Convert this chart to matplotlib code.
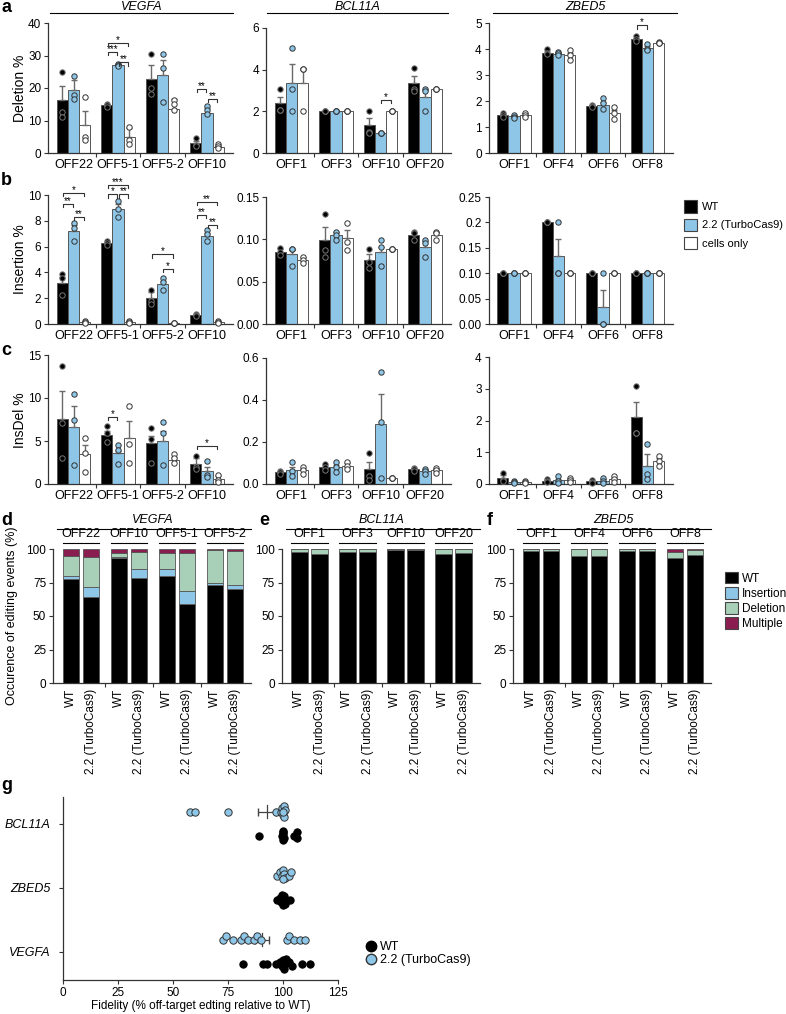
import numpy as np
import matplotlib
matplotlib.use('Agg')
import matplotlib.pyplot as plt
from matplotlib.patches import Patch
from matplotlib.lines import Line2D

plt.rcParams['font.family'] = ['Liberation Sans', 'DejaVu Sans']

# ---------------- data ----------------
conds = ['WT', '2.2 (TurboCas9)', 'cells only']
vegfa_sites = ['OFF22', 'OFF5-1', 'OFF5-2', 'OFF10']
bcl_sites = ['OFF1', 'OFF3', 'OFF10', 'OFF20']
zbed_sites = ['OFF1', 'OFF4', 'OFF6', 'OFF8']

# a: deletion %  (rows = sites, cols = WT / 2.2 / cells only)
del_vegfa_mean = [[16.2, 19.5, 8.5], [14.7, 27.2, 4.9], [22.9, 24.1, 13.6], [3.1, 12.4, 2.0]]
del_vegfa_err = [[4.3, 2.9, 4.3], [0.3, 0.3, 2.8], [4.1, 4.4, 3.1], [0.7, 1.5, 0.3]]
del_vegfa_pts = [[[25.0, 12.5, 11.0], [23.6, 17.7, 16.7], [17.2, 4.9, 3.9]],
                 [[15.2, 14.8, 14.2], [27.5, 27.2, 26.9], [8.0, 3.9, 2.8]],
                 [[30.6, 20.0, 18.1], [30.6, 26.2, 15.7], [16.2, 15.0, 13.3]],
                 [[4.6, 2.5, 2.2], [14.4, 13.2, 12.0], [2.9, 2.2, 1.6]]]
del_vegfa_sig = [(1, 0, 2, 33.8, '*'), (1, 0, 1, 31.1, '***'), (1, 1, 2, 27.9, '**'),
                 (3, 0, 1, 19.8, '**'), (3, 1, 2, 16.7, '**')]

del_bcl_mean = [[2.38, 3.38, 3.38], [2.0, 2.0, 2.0], [1.33, 0.98, 2.0], [3.38, 2.7, 3.05]]
del_bcl_err = [[0.32, 0.9, 0.69], [0, 0, 0], [0.37, 0, 0], [0.32, 0.33, 0]]
del_bcl_pts = [[[3.05, 2.05, 2.05], [5.06, 3.05, 2.03], [4.03, 4.05, 2.03]],
               [[2.0, 2.0, 2.0], [2.0, 2.0, 2.0], [2.0, 2.0, 2.0]],
               [[2.03, 1.0, 0.97], [0.98, 0.98, 0.98], [2.0, 2.0, 2.0]],
               [[4.07, 3.05, 3.0], [3.05, 3.0, 2.03], [3.05, 3.05, 3.05]]]
del_bcl_sig = [(2, 1, 2, 2.54, '*')]

del_zbed_mean = [[1.45, 1.41, 1.45], [3.86, 3.82, 3.76], [1.81, 1.86, 1.54], [4.37, 4.05, 4.24]]
del_zbed_err = [[0.05, 0.05, 0.08], [0.08, 0.03, 0.1], [0.03, 0.12, 0.13], [0.06, 0.08, 0.03]]
del_zbed_pts = [[[1.54, 1.45, 1.4], [1.48, 1.40, 1.36], [1.55, 1.45, 1.38]],
                [[4.01, 3.86, 3.8], [3.88, 3.83, 3.78], [3.95, 3.76, 3.56]],
                [[1.85, 1.8, 1.78], [2.13, 1.92, 1.71], [1.77, 1.54, 1.32]],
                [[4.49, 4.4, 4.3], [4.2, 4.01, 3.95], [4.27, 4.22, 4.22]]]
del_zbed_sig = [(3, 0, 1, 4.91, '*')]

# b: insertion %
ins_vegfa_mean = [[3.15, 7.2, 0.12], [6.28, 8.9, 0.15], [2.0, 3.1, 0.05], [0.7, 6.84, 0.12]]
ins_vegfa_err = [[0.5, 0.45, 0.05], [0.08, 0.38, 0.05], [0.45, 0.27, 0.03], [0.05, 0.22, 0.05]]
ins_vegfa_pts = [[[3.87, 3.54, 2.26], [7.86, 7.43, 6.41], [0.2, 0.12, 0.05]],
                 [[6.46, 6.3, 6.1], [9.54, 8.88, 8.27], [0.25, 0.15, 0.05]],
                 [[2.65, 1.8, 1.55], [3.6, 3.23, 2.67], [0.05, 0.05, 0.05]],
                 [[0.8, 0.7, 0.6], [7.25, 7.0, 6.41], [0.2, 0.12, 0.05]]]
ins_vegfa_sig = [(0, 0, 2, 10.18, '*'), (0, 0, 1, 9.3, '**'), (0, 1, 2, 8.3, '**'),
                 (1, 0, 2, 10.8, '***'), (1, 0, 1, 10.05, '*'), (1, 1, 2, 10.05, '**'),
                 (2, 0, 2, 5.4, '*'), (2, 1, 2, 4.3, '*'),
                 (3, 0, 2, 9.47, '**'), (3, 0, 1, 8.45, '**'), (3, 1, 2, 7.7, '**')]

ins_bcl_mean = [[0.0854, 0.0823, 0.0756], [0.0992, 0.105, 0.102], [0.0756, 0.0854, 0.0886], [0.105, 0.091, 0.105]]
ins_bcl_err = [[0.003, 0.005, 0.004], [0.015, 0.004, 0.009], [0.0065, 0.006, 0], [0.004, 0.007, 0.004]]
ins_bcl_pts = [[[0.0894, 0.085, 0.082], [0.089, 0.089, 0.0685], [0.0795, 0.0756, 0.0717]],
               [[0.1295, 0.0874, 0.0787], [0.109, 0.105, 0.099], [0.119, 0.097, 0.087]],
               [[0.0886, 0.073, 0.066], [0.099, 0.0906, 0.0685], [0.0886, 0.0886, 0.0886]],
               [[0.109, 0.107, 0.099], [0.099, 0.0955, 0.0795], [0.109, 0.107, 0.099]]]

ins_zbed_mean = [[0.1, 0.1, 0.1], [0.2, 0.133, 0.1], [0.1, 0.033, 0.1], [0.1, 0.1, 0.1]]
ins_zbed_err = [[0, 0, 0], [0, 0.034, 0], [0, 0.034, 0], [0, 0, 0]]
ins_zbed_pts = [[[0.1] * 3, [0.1] * 3, [0.1] * 3],
                [[0.2] * 3, [0.2, 0.1, 0.1], [0.1] * 3],
                [[0.1] * 3, [0.1, 0.0, 0.0], [0.1] * 3],
                [[0.1] * 3, [0.1] * 3, [0.1] * 3]]

# c: insdel %
indel_vegfa_mean = [[7.56, 6.67, 3.49], [5.7, 3.57, 5.39], [4.73, 5.04, 2.8], [2.33, 1.5, 0.55]]
indel_vegfa_err = [[3.29, 2.4, 1.04], [0.5, 0.3, 1.97], [0.9, 1.1, 0.3], [0.65, 0.5, 0.35]]
indel_vegfa_pts = [[[13.7, 7.13, 3.06], [10.47, 7.44, 2.2], [5.39, 3.6, 1.4]],
                   [[6.74, 5.9, 4.9], [4.53, 3.95, 2.3], [9.07, 4.65, 2.4]],
                   [[6.47, 5.2, 2.4], [7.25, 5.97, 2.2], [3.49, 2.98, 2.48]],
                   [[3.3, 2.0, 1.7], [2.7, 1.0, 0.8], [1.0, 0.5, 0.2]]]
indel_vegfa_sig = [(1, 0, 1, 7.83, '*'), (3, 0, 2, 4.4, '*')]

indel_bcl_mean = [[0.055, 0.068, 0.065], [0.08, 0.08, 0.088], [0.07, 0.285, 0.03], [0.07, 0.06, 0.065]]
indel_bcl_err = [[0.005, 0.015, 0.008], [0.01, 0.01, 0.01], [0.037, 0.145, 0], [0.005, 0.005, 0.005]]
indel_bcl_pts = [[[0.06, 0.055, 0.05], [0.103, 0.06, 0.04], [0.08, 0.065, 0.05]],
                 [[0.093, 0.08, 0.068], [0.104, 0.08, 0.056], [0.104, 0.088, 0.072]],
                 [[0.149, 0.04, 0.02], [0.531, 0.296, 0.03], [0.03, 0.03, 0.03]],
                 [[0.077, 0.07, 0.063], [0.07, 0.06, 0.05], [0.077, 0.065, 0.053]]]

indel_zbed_mean = [[0.19, 0.05, 0.05], [0.1, 0.12, 0.12], [0.08, 0.1, 0.15], [2.1, 0.58, 0.72]]
indel_zbed_err = [[0.1, 0.02, 0.02], [0.03, 0.05, 0.04], [0.03, 0.05, 0.05], [0.49, 0.35, 0.1]]
indel_zbed_pts = [[[0.35, 0.12, 0.1], [0.08, 0.05, 0.03], [0.08, 0.05, 0.03]],
                  [[0.15, 0.1, 0.06], [0.25, 0.08, 0.04], [0.18, 0.12, 0.06]],
                  [[0.14, 0.06, 0.04], [0.2, 0.08, 0.03], [0.25, 0.15, 0.05]],
                  [[3.08, 1.62, 1.6], [1.27, 0.3, 0.17], [0.87, 0.72, 0.56]]]

# d-f: editing outcome fractions, bars = (site WT, site 2.2) pairs
d_sites = ['OFF22', 'OFF10', 'OFF5-1', 'OFF5-2']
d_wt = [77.5, 64.25, 93.0, 78.0, 79.75, 59.25, 73.0, 70.5]
d_ins = [2.25, 7.5, 0.75, 6.75, 5.0, 9.5, 2.0, 2.5]
d_del = [15.25, 22.0, 3.5, 13.25, 12.5, 28.5, 24.25, 25.75]
d_mult = [5.0, 6.25, 2.75, 2.0, 2.75, 2.75, 0.75, 1.25]

e_sites = ['OFF1', 'OFF3', 'OFF10', 'OFF20']
e_wt = [97.5, 96.5, 98.0, 98.0, 99.0, 99.0, 96.5, 97.0]
e_ins = [0, 0, 0, 0, 0, 0, 0, 0]
e_del = [2.5, 3.5, 2.0, 2.0, 1.0, 1.0, 3.5, 3.0]
e_mult = [0, 0, 0, 0, 0, 0, 0, 0]

f_sites = ['OFF1', 'OFF4', 'OFF6', 'OFF8']
f_wt = [98.5, 98.5, 94.75, 94.75, 98.25, 98.25, 93.0, 95.25]
f_ins = [0, 0, 0.25, 0, 0, 0, 0.5, 0]
f_del = [1.5, 1.5, 5.0, 5.25, 1.75, 1.75, 4.0, 4.25]
f_mult = [0, 0, 0, 0, 0, 0, 2.5, 0.5]

# g: fidelity per gene
g_genes = ['VEGFA', 'ZBED5', 'BCL11A']
g_wt = [[82.0, 91.0, 92.7, 97.0, 98.5, 99.5, 100.3, 101.0, 101.5, 102.6, 104.0, 108.6, 112.1, 100.0],
        [97.3, 98.8, 99.5, 100.0, 100.2, 100.5, 101.0, 101.5, 103.3, 99.0],
        [89.0, 99.6, 99.8, 100.0, 100.0, 100.2, 100.4, 105.0, 106.2, 106.5]]
g_turbo = [[72.7, 74.0, 77.1, 81.0, 82.3, 84.0, 86.7, 88.0, 90.0, 101.8, 102.6, 104.8, 107.9, 109.8],
           [97.3, 98.5, 99.5, 100.0, 100.3, 101.0, 102.5, 103.6, 99.8],
           [57.5, 60.0, 75.0, 96.7, 99.0, 99.5, 100.0, 100.3, 100.6, 101.0, 100.0]]
g_turbo_mean = [90.5, 100.3, 92.7]
g_turbo_sem = [3.3, 0.7, 4.1]
g_wt_mean = [100.0, 100.0, 100.0]
g_wt_sem = [2.0, 0.6, 1.5]

# ---------------- style ----------------
W, H = 786, 1014
BLUE = '#8ec6e8'
GREEN = '#a8cfb8'
MAROON = '#8b1e50'
AX = '#333333'
fills = ['black', BLUE, 'white']
pt_edge = ['#777777', '#333333', '#333333']

fig = plt.figure(figsize=(W / 100, H / 100), dpi=100)


def add_ax(x0, x1, ytop, ybot):
    return fig.add_axes([x0 / W, 1 - ybot / H, (x1 - x0) / W, (ybot - ytop) / H])


def style(ax):
    for s in ['top', 'right']:
        ax.spines[s].set_visible(False)
    for s in ['left', 'bottom']:
        ax.spines[s].set_color(AX)
        ax.spines[s].set_linewidth(0.9)
    ax.tick_params(axis='y', length=3, width=0.8, color=AX, labelsize=8.5, pad=2)


def hline(x0, x1, y, lw=0.8):
    fig.add_artist(Line2D([x0 / W, x1 / W], [1 - y / H, 1 - y / H], transform=fig.transFigure,
                          color='black', lw=lw))


def ftext(x, y, s, **kw):
    fig.text(x / W, 1 - y / H, s, **kw)


def bar_panel(ax, sites, mean, err, pts, ymax, ticks, ticklabels, sig=()):
    style(ax)
    offs = [-0.25, 0.0, 0.25]
    for g in range(len(sites)):
        for c in range(3):
            x = g + offs[c]
            ax.bar(x, mean[g][c], width=0.25, color=fills[c], edgecolor='#555555', linewidth=0.7, zorder=2)
            if err[g][c] > 0:
                ax.errorbar(x, mean[g][c], yerr=[[0], [err[g][c]]], fmt='none', ecolor='#6a6a6a',
                            elinewidth=1.0, capsize=2.3, capthick=1.0, zorder=3)
            ax.scatter([x] * len(pts[g][c]), pts[g][c], s=15, c=fills[c], edgecolors=pt_edge[c],
                       linewidths=0.7, zorder=4, clip_on=False)
    dy = 0.025 * ymax
    for g, i, j, y, lab in sig:
        x0, x1 = g + offs[i] + 0.02, g + offs[j] - 0.02
        ax.plot([x0, x0, x1, x1], [y - dy, y, y, y - dy], color='#333333', lw=0.8, clip_on=False, zorder=5)
        ax.annotate(lab, xy=((x0 + x1) / 2, y), xytext=(0, -1.5), textcoords='offset points',
                    ha='center', va='bottom', fontsize=7, annotation_clip=False)
    ax.set_xlim(-0.57, 3.58)
    ax.set_ylim(0, ymax)
    ax.set_yticks(ticks)
    ax.set_yticklabels(ticklabels)
    ax.set_xticks(range(len(sites)))
    ax.set_xticklabels(sites, fontsize=9)
    ax.set_xticks([0.5, 1.5, 2.5], minor=True)
    ax.tick_params(axis='x', which='major', length=0, pad=4)
    ax.tick_params(axis='x', which='minor', length=3, width=0.8, color=AX)


# ---------------- a-c ----------------
col_c0 = [73.5, 291.5, 514]
sp = 44.5


def col_ax(ci, ytop, ybot):
    left = col_c0[ci] - 0.57 * sp
    return add_ax(left, left + 4.15 * sp, ytop, ybot)


ax = col_ax(0, 23, 153)
bar_panel(ax, vegfa_sites, del_vegfa_mean, del_vegfa_err, del_vegfa_pts, 40, [0, 10, 20, 30, 40],
          ['0', '10', '20', '30', '40'], del_vegfa_sig)
ax = col_ax(1, 28, 153)
bar_panel(ax, bcl_sites, del_bcl_mean, del_bcl_err, del_bcl_pts, 6, [0, 2, 4, 6], ['0', '2', '4', '6'], del_bcl_sig)
ax = col_ax(2, 23, 153)
bar_panel(ax, zbed_sites, del_zbed_mean, del_zbed_err, del_zbed_pts, 5, [0, 1, 2, 3, 4, 5],
          ['0', '1', '2', '3', '4', '5'], del_zbed_sig)

ax = col_ax(0, 195, 324)
bar_panel(ax, vegfa_sites, ins_vegfa_mean, ins_vegfa_err, ins_vegfa_pts, 10, [0, 2, 4, 6, 8, 10],
          ['0', '2', '4', '6', '8', '10'], ins_vegfa_sig)
ax = col_ax(1, 197, 324)
bar_panel(ax, bcl_sites, ins_bcl_mean, ins_bcl_err, ins_bcl_pts, 0.15, [0, 0.05, 0.10, 0.15],
          ['0.00', '0.05', '0.10', '0.15'])
ax = col_ax(2, 197, 324)
bar_panel(ax, zbed_sites, ins_zbed_mean, ins_zbed_err, ins_zbed_pts, 0.25, [0, 0.05, 0.10, 0.15, 0.2, 0.25],
          ['0.00', '0.05', '0.10', '0.15', '0.2', '0.25'])

ax = col_ax(0, 355, 484)
bar_panel(ax, vegfa_sites, indel_vegfa_mean, indel_vegfa_err, indel_vegfa_pts, 15, [0, 5, 10, 15],
          ['0', '5', '10', '15'], indel_vegfa_sig)
ax = col_ax(1, 358, 484)
bar_panel(ax, bcl_sites, indel_bcl_mean, indel_bcl_err, indel_bcl_pts, 0.6, [0, 0.2, 0.4, 0.6],
          ['0.0', '0.2', '0.4', '0.6'])
ax = col_ax(2, 357, 484)
bar_panel(ax, zbed_sites, indel_zbed_mean, indel_zbed_err, indel_zbed_pts, 4, [0, 1, 2, 3, 4],
          ['0', '1', '2', '3', '4'])

# row y labels
for y, s in [(88, 'Deletion %'), (259, 'Insertion %'), (420, 'InsDel %')]:
    ftext(20, y, s, rotation=90, ha='center', va='center', fontsize=10)

# gene headers row a
for x0, x1, name in [(50, 233, 'VEGFA'), (267, 448, 'BCL11A'), (493, 677, 'ZBED5')]:
    hline(x0, x1, 13)
    ftext((x0 + x1) / 2, 10, name, ha='center', va='baseline', fontsize=9, style='italic')

fig.legend(handles=[Patch(fc=f, ec='#444444', lw=0.8) for f in fills], labels=conds,
           loc='upper left', bbox_to_anchor=(680 / W, 1 - 196 / H), frameon=False, fontsize=8,
           handlelength=1.15, handleheight=1.3, handletextpad=0.4, labelspacing=0.55, borderaxespad=0)

# ---------------- d-f ----------------
seg_cols = ['black', BLUE, GREEN, MAROON]
seg_names = ['WT', 'Insertion', 'Deletion', 'Multiple']


def stack_panel(ax, sites, wt, ins, dele, mult, gene):
    style(ax)
    xs = [k // 2 + (-0.21 if k % 2 == 0 else 0.21) for k in range(len(wt))]
    bottom = np.zeros(len(wt))
    for vals, col in zip([wt, ins, dele, mult], seg_cols):
        ax.bar(xs, vals, bottom=bottom, width=0.34, color=col, edgecolor='#555555', linewidth=0.6, zorder=2)
        bottom = bottom + np.array(vals)
    ax.set_xlim(-0.58, 3.55)
    ax.set_ylim(0, 100)
    ax.set_yticks([0, 25, 50, 75, 100])
    ax.set_xticks(xs)
    ax.set_xticklabels(['WT', '2.2 (TurboCas9)'] * len(sites), rotation=90, fontsize=8.5, va='top')
    ax.set_xticks([0.5, 1.5, 2.5], minor=True)
    ax.tick_params(axis='x', which='major', length=0, pad=4)
    ax.tick_params(axis='x', which='minor', length=3, width=0.8, color=AX)
    # site headers and gene header above the axes
    trans = ax.get_xaxis_transform()
    for g, s in enumerate(sites):
        ax.plot([g - 0.38, g + 0.38], [1.045, 1.045], color='black', lw=0.8, transform=trans, clip_on=False)
        ax.text(g, 1.065, s, transform=trans, ha='center', va='bottom', fontsize=9)
    ax.plot([-0.5, 3.55], [1.15, 1.15], color='black', lw=0.8, transform=trans, clip_on=False)
    ax.text(1.5, 1.175, gene, transform=trans, ha='center', va='bottom', fontsize=9, style='italic')


dsp = 48
for c0, sites, data, gene in [(81, d_sites, (d_wt, d_ins, d_del, d_mult), 'VEGFA'),
                               (309.5, e_sites, (e_wt, e_ins, e_del, e_mult), 'BCL11A'),
                               (541, f_sites, (f_wt, f_ins, f_del, f_mult), 'ZBED5')]:
    left = c0 - 0.58 * dsp
    ax = add_ax(left, left + 4.13 * dsp, 549, 683)
    stack_panel(ax, sites, *data, gene)

ftext(12, 616, 'Occurence of editing events (%)', rotation=90, ha='center', va='center', fontsize=9)

fig.legend(handles=[Patch(fc=c, ec='#444444', lw=0.8) for c in seg_cols], labels=seg_names,
           loc='upper left', bbox_to_anchor=(720 / W, 1 - 567 / H), frameon=False, fontsize=8.5,
           handlelength=1.1, handleheight=1.15, handletextpad=0.35, labelspacing=0.2, borderaxespad=0)

# ---------------- g ----------------
axg = add_ax(63, 338, 797, 980)
style(axg)
axg.tick_params(axis='x', length=3, width=0.8, color=AX, labelsize=8.5, pad=2)
XS, YS, DIAM = 275 / 125, 64.0, 3.6


def swarm(xs):
    # simple beeswarm: nudge points up/down until they stop overlapping too much
    order = np.argsort(xs)
    placed = []
    offs = np.zeros(len(xs))
    cands = [0, 1, -1, 2, -2, 3, -3]
    for i in order:
        xp = xs[i] * XS
        best, best_d = 0, -1
        for k in cands:
            yp = k * DIAM * 0.5
            d = min([np.hypot(xp - a, yp - b) for a, b in placed] + [99])
            if d >= DIAM:
                best = yp
                break
            if d > best_d:
                best, best_d = yp, d
        placed.append((xp, best))
        offs[i] = best / YS
    return offs


for gi in range(len(g_genes)):
    for vals, m, e, yc, fc, ec in [(g_turbo[gi], g_turbo_mean[gi], g_turbo_sem[gi], gi + 0.19, BLUE, '#333333'),
                                   (g_wt[gi], g_wt_mean[gi], g_wt_sem[gi], gi - 0.19, 'black', 'black')]:
        axg.errorbar(m, yc, xerr=e, fmt='none', ecolor='#444444', elinewidth=0.9, capsize=3, zorder=2)
        axg.plot([m, m], [yc - 0.1, yc + 0.1], color='#444444', lw=0.9, zorder=2)
        v = np.array(vals)
        axg.scatter(v, yc + swarm(v), s=28, c=fc, edgecolors=ec, linewidths=0.7, zorder=3)

axg.set_xlim(0, 125)
axg.set_ylim(-0.44, 2.42)
axg.set_xticks([0, 25, 50, 75, 100, 125])
axg.set_yticks(range(len(g_genes)))
axg.set_yticklabels(g_genes, fontsize=9, style='italic')
axg.tick_params(axis='y', pad=6)
axg.set_xlabel('Fidelity (% off-target edting relative to WT)', fontsize=8.5, labelpad=1)

fig.legend(handles=[Line2D([], [], ls='none', marker='o', ms=7.5, mfc='black', mec='black'),
                    Line2D([], [], ls='none', marker='o', ms=7.5, mfc=BLUE, mec='#333333')],
           labels=['WT', '2.2 (TurboCas9)'], loc='upper left', bbox_to_anchor=(361 / W, 1 - 936 / H),
           frameon=False, fontsize=9, handlelength=0.8, handletextpad=0.3, labelspacing=0.1, borderaxespad=0)

# panel letters
for x, y, s in [(1, 12, 'a'), (1, 185, 'b'), (1, 355, 'c'), (1, 525, 'd'), (259, 525, 'e'),
                (487, 525, 'f'), (1, 790, 'g')]:
    ftext(x, y, s, fontsize=13, weight='bold', va='baseline')

fig.savefig('out.png', dpi=100)
